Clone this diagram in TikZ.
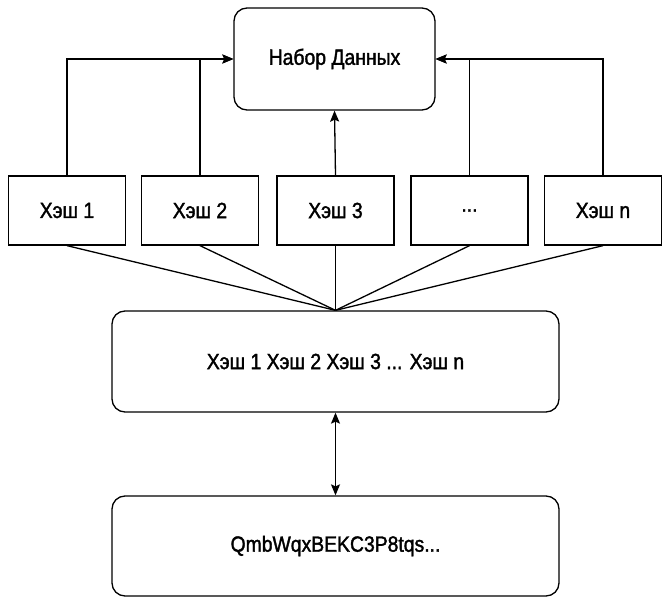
\documentclass[tikz,border=0pt]{standalone}
\usepackage{fontspec}
\setmainfont{Liberation Sans}[FakeStretch=0.88,FakeBold=1.6]
\usetikzlibrary{arrows.meta}
\begin{document}
\begin{tikzpicture}[x=1pt,y=-1pt,
  lbl/.style={font=\fontsize{22}{25}\selectfont},
  box/.style={draw, line width=1.3pt, minimum width=117pt, minimum height=69pt, inner sep=0pt, lbl},
  rbox/.style={draw, line width=1.3pt, rounded corners=13pt, inner sep=0pt, lbl},
  conn/.style={line width=1.3pt},
  arr/.style={line width=1.3pt, -{Stealth[length=11pt,width=9pt,inset=2pt]}},
  darr/.style={line width=1.3pt, {Stealth[length=11pt,width=9pt,inset=2pt]}-{Stealth[length=11pt,width=9pt,inset=2pt]}}
]
\useasboundingbox (0,0) rectangle (662,597);
\node[rbox, minimum width=201pt, minimum height=102pt] (data) at (334.5,59) {Набор Данных};
\node[box] (h1) at (67,210.5) {Хэш 1};
\node[box] (h2) at (200,210.5) {Хэш 2};
\node[box] (h3) at (335.5,210.5) {Хэш 3};
\node[box] (hd) at (469.5,210.5) {...};
\node[box] (hn) at (603,210.5) {Хэш n};
\node[rbox, minimum width=447pt, minimum height=101pt] (cat) at (335.5,361.5) {Хэш 1 Хэш 2 Хэш 3 ... Хэш n};
\node[rbox, minimum width=447pt, minimum height=100pt] (cid) at (335.5,546) {QmbWqxBEKC3P8tqs...};
\coordinate (join) at (cat.north);
\draw[arr] (h1.north) |- (data.west);
\draw[arr] (h2.north) |- (data.west);
\draw[arr] (h3.north) -- (data.south);
\draw[arr] (hd.north) |- (data.east);
\draw[arr] (hn.north) |- (data.east);
\foreach \n in {h1,h2,h3,hd,hn} \draw[conn] (\n.south) -- (join);
\draw[darr] (cat.south) -- (cid.north);
\end{tikzpicture}
\end{document}
